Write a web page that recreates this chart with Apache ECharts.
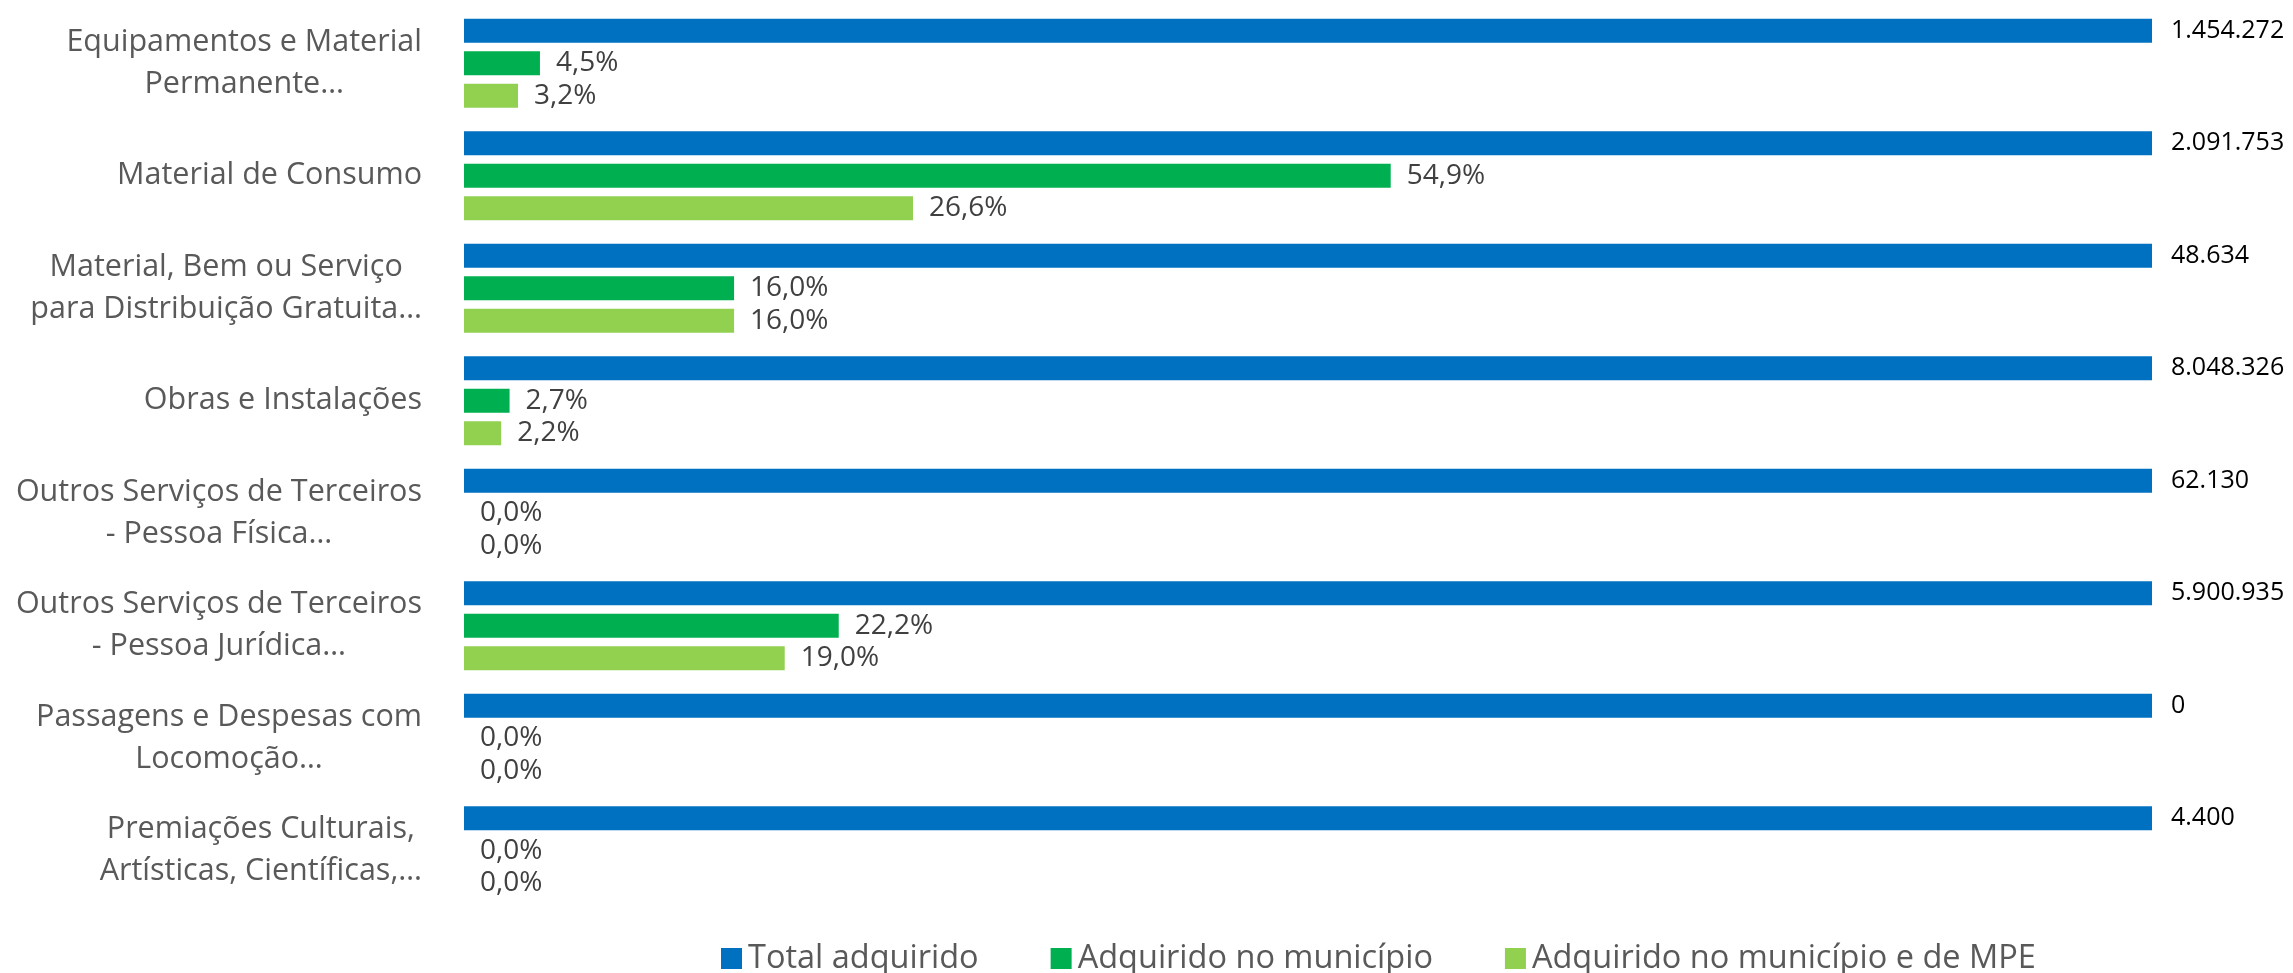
<!DOCTYPE html>
<html>
<head>
<meta charset="utf-8">
<script src="https://cdn.jsdelivr.net/npm/echarts@6/dist/echarts.min.js"></script>
<style>
html,body{margin:0;padding:0;background:#fff;}
#chart{width:2293px;height:973px;}
</style>
</head>
<body>
<div id="chart"></div>
<script>
const categories = [
  "Equipamentos e Material\nPermanente…",
  "Material de Consumo",
  "Material, Bem ou Serviço\npara Distribuição Gratuita…",
  "Obras e Instalações",
  "Outros Serviços de Terceiros\n- Pessoa Física…",
  "Outros Serviços de Terceiros\n- Pessoa Jurídica…",
  "Passagens e Despesas com\nLocomoção…",
  "Premiações Culturais,\nArtísticas, Científicas,…"
];
const seriesNames = ["Total adquirido", "Adquirido no município", "Adquirido no município e de MPE"];
const totalAcquired = [1454272, 2091753, 48634, 8048326, 62130, 5900935, 0, 4400];
const totalBarPct = [100, 100, 100, 100, 100, 100, 100, 100];
const municipioPct = [4.5, 54.9, 16.0, 2.7, 0.0, 22.2, 0.0, 0.0];
const mpePct = [3.2, 26.6, 16.0, 2.2, 0.0, 19.0, 0.0, 0.0];
const colors = ["#0070C0", "#00B050", "#92D050"];

const FONT = "'Open Sans', 'Noto Sans', sans-serif";
function fmtInt(v){ return String(v).replace(/\B(?=(\d{3})+(?!\d))/g, "."); }
function fmtPct(v){ return v.toFixed(1).replace(".", ",") + "%"; }

const chart = echarts.init(document.getElementById('chart'), null, {renderer: 'canvas'});
const pctLabel = {
  show: true, position: 'right', distance: 16,
  color: '#404040', fontFamily: FONT, fontSize: 28,
  formatter: p => fmtPct(p.value)
};
chart.setOption({
  animation: false,
  backgroundColor: '#ffffff',
  color: colors,
  grid: {left: 464, right: 2293 - 2152, top: 7, height: 900, containLabel: false},
  legend: {
    left: 716, top: 937,
    itemWidth: 21, itemHeight: 21, itemGap: 72,
    icon: 'rect',
    textStyle: {color: '#595959', fontFamily: FONT, fontSize: 32.5, padding: [0,0,0,1]},
    data: seriesNames
  },
  xAxis: {type: 'value', min: 0, max: 100, show: false, splitLine: {show: false}},
  yAxis: {
    type: 'category', data: categories, inverse: true,
    axisLine: {show: false}, axisTick: {show: false},
    axisLabel: {
      margin: 42, align: 'right',
      color: '#595959', fontFamily: FONT, fontSize: 30.5, lineHeight: 42,
      formatter: v => v.split('\n').map(l => '{c|' + l + '}').join('\n'),
      rich: {c: {align: 'center', color: '#595959', fontFamily: FONT, fontSize: 30.5, lineHeight: 42}}
    }
  },
  series: [
    {
      name: seriesNames[0], type: 'bar', data: totalBarPct, barWidth: 24, barGap: '35%',
      itemStyle: {color: colors[0]},
      label: {show: true, position: 'right', distance: 19, color: '#000000', fontFamily: FONT, fontSize: 25,
        formatter: p => fmtInt(totalAcquired[p.dataIndex])}
    },
    {
      name: seriesNames[1], type: 'bar', data: municipioPct, barWidth: 24, barGap: '35%',
      itemStyle: {color: colors[1]}, label: pctLabel
    },
    {
      name: seriesNames[2], type: 'bar', data: mpePct, barWidth: 24, barGap: '35%',
      itemStyle: {color: colors[2]}, label: pctLabel
    }
  ]
});
</script>
</body>
</html>
